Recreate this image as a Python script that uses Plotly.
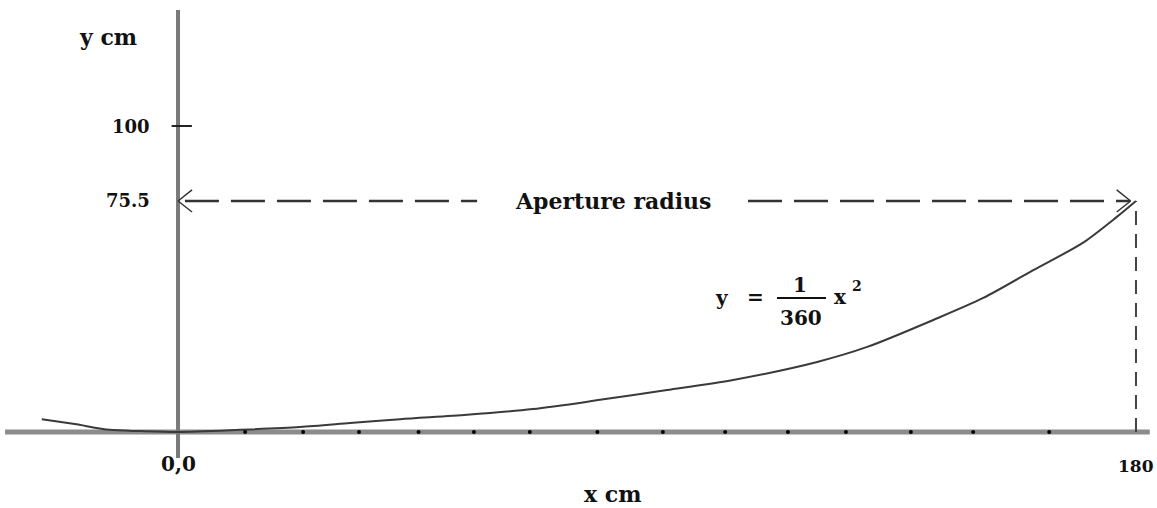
import plotly.graph_objects as go

# ---- data ----
curve_x = [-25.6, -19.4, -12.8, -7.1, 0, 11.6, 22.9, 32.3, 41.7, 54.3, 66.7, 79.3,
           91.9, 104.3, 120.1, 129.5, 141.9, 151.3, 160.7, 170.0, 176.4, 180]
curve_y = [4.2, 2.6, 0.7, 0.3, 0, 0.7, 1.6, 2.9, 4.2, 5.6, 7.5, 10.5,
           13.7, 17.0, 22.9, 27.8, 36.6, 43.8, 52.9, 61.8, 70.3, 75.5]
x_dot_ticks = [12.6, 23.5, 34.0, 45.2, 55.6, 66.1, 78.8, 91.1, 102.8, 114.6,
               125.5, 137.7, 149.4, 163.7]
y_tick_vals = [100, 75.5]
y_tick_text = ["100", "75.5"]
aperture_y = 75.5
x_end = 180
x_end_label = "180"
origin_label = "0,0"

W, H = 1157, 508
X_RANGE = [-33.45, 183.95]
Y_RANGE = [-24.84, 141.18]
FONT = "DejaVu Serif"
INK = "#111111"


def px(x):
    return x / W


def py(y):
    return 1 - y / H


fig = go.Figure()

# curve
fig.add_trace(go.Scatter(x=curve_x, y=curve_y, mode="lines",
                         line=dict(color="#3a3a3a", width=2, shape="spline", smoothing=0.8),
                         hoverinfo="skip", showlegend=False))
# tick dots on x axis
fig.add_trace(go.Scatter(x=x_dot_ticks, y=[0] * len(x_dot_ticks), mode="markers",
                         marker=dict(color="#000000", size=4),
                         hoverinfo="skip", showlegend=False))

shapes = []
# x axis
shapes.append(dict(type="line", xref="x", yref="y", x0=-32.5, x1=182.6, y0=0, y1=0,
                   line=dict(color="#8c8c8c", width=5), layer="below"))
# y axis
shapes.append(dict(type="line", xref="x", yref="y", x0=0, x1=0, y0=-8.5, y1=137.9,
                   line=dict(color="#7a7a7a", width=4), layer="below"))
# tick at 100
shapes.append(dict(type="line", xref="x", yref="y", x0=-1.2, x1=2.6,
                   y0=y_tick_vals[0], y1=y_tick_vals[0],
                   line=dict(color="#222222", width=2)))
# aperture dashed line (two segments around the label)
for a, b in [(1.3, 56.2), (107.1, 178.9)]:
    shapes.append(dict(type="line", xref="x", yref="y", x0=a, x1=b,
                       y0=aperture_y, y1=aperture_y,
                       line=dict(color="#333333", width=2.5, dash="34px,12px")))
# vertical dashed at x_end
shapes.append(dict(type="line", xref="x", yref="y", x0=x_end, x1=x_end,
                   y0=0, y1=aperture_y,
                   line=dict(color="#444444", width=2, dash="14px,9px")))
# arrow heads
dx, dy = 2.63, 3.6
for sgn in (1, -1):
    shapes.append(dict(type="line", xref="x", yref="y", x0=0, y0=aperture_y,
                       x1=dx, y1=aperture_y + sgn * dy,
                       line=dict(color="#333333", width=1.5)))
    shapes.append(dict(type="line", xref="x", yref="y", x0=x_end - 1.0, y0=aperture_y,
                       x1=x_end - 1.0 - dx, y1=aperture_y + sgn * dy,
                       line=dict(color="#333333", width=1.5)))
# fraction bar
shapes.append(dict(type="line", xref="paper", yref="paper",
                   x0=px(777), x1=px(826), y0=py(298), y1=py(298),
                   line=dict(color=INK, width=2)))

ann = []


def text(t, x, y, size, xref="paper", yref="paper", xanchor="center", yanchor="middle"):
    ann.append(dict(text="<b>" + t + "</b>", x=x, y=y, xref=xref, yref=yref,
                    xanchor=xanchor, yanchor=yanchor, showarrow=False,
                    font=dict(family=FONT, size=size, color=INK)))


text("y cm", px(108), py(37), 22)
for v, t in zip(y_tick_vals, y_tick_text):
    text(t, px(152), v, 18, yref="y", xanchor="right")
text(origin_label, 0, py(464), 20, xref="x")
text("x cm", px(612), py(494), 22)
text(x_end_label, x_end, py(466), 17, xref="x")
text("Aperture radius", px(613), aperture_y, 22, yref="y")
text("y", px(722), py(298), 20)
text("=", px(755), py(297), 20)
text("1", px(800), py(285), 20)
text("360", px(801), py(318), 20)
text("x", px(840), py(297), 20)
text("2", px(857), py(286), 14)

fig.update_layout(
    width=W, height=H,
    margin=dict(l=0, r=0, t=0, b=0),
    paper_bgcolor="white", plot_bgcolor="white",
    xaxis=dict(range=X_RANGE, visible=False, fixedrange=True),
    yaxis=dict(range=Y_RANGE, visible=False, fixedrange=True),
    shapes=shapes, annotations=ann, showlegend=False,
)

fig.write_html("out.html", config={"displayModeBar": False})
